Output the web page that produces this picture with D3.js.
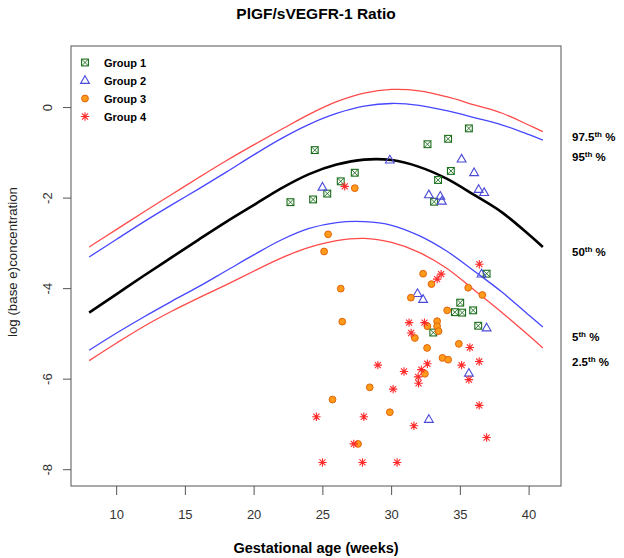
<!DOCTYPE html>
<html><head><meta charset="utf-8">
<script src="https://cdn.jsdelivr.net/npm/d3@7"></script>
<style>body{margin:0;background:#fff}svg{display:block;font-family:"Liberation Sans",Arial,sans-serif}</style>
</head><body><svg id="c" width="624" height="558"></svg>
<script>
// ---- data ----
const gaWeeks = [8,10,12,14,16,18,20,22,24,26,28,30,32,34,36,38,40,41];
const p975 = [-3.08,-2.69,-2.30,-1.92,-1.54,-1.17,-0.82,-0.48,-0.15,0.13,0.32,0.40,0.37,0.24,0.06,-0.12,-0.39,-0.53];
const p95  = [-3.30,-2.91,-2.52,-2.15,-1.79,-1.42,-1.04,-0.68,-0.37,-0.13,0.03,0.09,0.05,-0.07,-0.22,-0.38,-0.60,-0.72];
const p50  = [-4.53,-4.12,-3.71,-3.31,-2.91,-2.52,-2.15,-1.78,-1.47,-1.26,-1.15,-1.16,-1.31,-1.57,-1.93,-2.31,-2.81,-3.08];
const p5   = [-5.36,-4.98,-4.62,-4.28,-3.95,-3.60,-3.25,-2.92,-2.67,-2.54,-2.52,-2.60,-2.83,-3.17,-3.61,-4.07,-4.59,-4.85];
const p25  = [-5.59,-5.20,-4.83,-4.50,-4.20,-3.91,-3.61,-3.32,-3.09,-2.94,-2.89,-2.98,-3.20,-3.55,-4.03,-4.52,-5.04,-5.31];

const g1x = [22.64,24.29,24.41,25.32,26.30,27.32,32.61,34.11,35.62,34.31,33.38,33.09,36.91,34.99,34.60,35.13,35.93,36.30,33.03];
const g1y = [-2.09,-2.03,-0.94,-1.90,-1.63,-1.44,-0.81,-0.69,-0.46,-1.40,-1.60,-2.08,-3.67,-4.31,-4.52,-4.53,-4.48,-4.82,-4.97];

const g2x = [24.97,29.87,35.09,36.00,36.33,36.73,32.71,33.54,33.65,36.54,31.88,32.29,36.91,35.62,32.71];
const g2y = [-1.76,-1.16,-1.14,-1.44,-1.81,-1.88,-1.93,-1.96,-2.07,-3.68,-4.11,-4.24,-4.87,-5.87,-6.89];

const g3x = [27.32,25.38,25.09,26.30,26.41,32.29,32.90,31.40,35.57,36.60,34.04,33.31,33.31,32.60,33.41,31.69,32.58,34.89,33.70,34.11,32.42,28.41,25.70,29.87,27.56];
const g3y = [-1.78,-2.80,-3.18,-4.00,-4.73,-3.67,-3.90,-4.20,-3.98,-4.14,-4.48,-4.72,-4.83,-4.83,-4.94,-5.09,-5.31,-5.22,-5.53,-5.57,-5.88,-6.18,-6.45,-6.73,-7.43];

const g4x = [26.59,36.38,33.60,33.31,31.27,32.39,31.42,35.69,36.37,35.09,32.60,32.16,29.00,30.90,31.93,31.96,30.11,35.62,36.37,36.91,24.53,27.98,31.62,27.25,24.97,27.88,30.40];
const g4y = [-1.74,-3.46,-3.68,-3.79,-4.75,-4.75,-4.98,-5.30,-5.61,-5.69,-5.66,-5.79,-5.69,-5.83,-5.95,-6.09,-6.22,-6.01,-6.58,-7.29,-6.83,-6.83,-7.03,-7.43,-7.84,-7.84,-7.84];

const xTicks = [10,15,20,25,30,35,40];
const yTicks = [0,-2,-4,-6,-8];
const groupNames = ["Group 1","Group 2","Group 3","Group 4"];
const pctLabels = [["97.5","th %"],["95","th %"],["50","th %"],["5","th %"],["2.5","th %"]];
const pctLabelY = [-0.63,-1.09,-3.17,-5.05,-5.61];

// ---- drawing ----
const svg = d3.select("#c");
const x = d3.scaleLinear().domain([6.68,42.32]).range([71,561]);
const y = d3.scaleLinear().domain([-8.36,1.36]).range([486,46]);
const axCol = "#555";

const GREEN="#1c6e1c", BLUE="#4a4ad8", ORF="#ff9a1a", ORS="#e2650c", RED="#ff2a2a";

// curves
const line = d3.line().x(d=>x(d[0])).y(d=>y(d[1])).curve(d3.curveCatmullRom.alpha(0.5));
const curves = [[p975,"#ff4a4a",1.3],[p95,"#4646ff",1.3],[p50,"#000",2.6],[p5,"#4646ff",1.3],[p25,"#ff4a4a",1.3]];
curves.forEach(([vals,col,w])=>{
  svg.append("path").attr("d",line(gaWeeks.map((g,i)=>[g,vals[i]])))
    .attr("fill","none").attr("stroke",col).attr("stroke-width",w);
});

// symbols
function sq(g,cx,cy){const s=3.4;
  g.append("rect").attr("x",cx-s).attr("y",cy-s).attr("width",2*s).attr("height",2*s).attr("fill","none").attr("stroke",GREEN).attr("stroke-width",1.1);
  g.append("path").attr("d",`M${cx-s},${cy-s}L${cx+s},${cy+s}M${cx-s},${cy+s}L${cx+s},${cy-s}`).attr("stroke",GREEN).attr("stroke-width",0.9);
}
function tri(g,cx,cy){const r=4.8;
  g.append("path").attr("d",`M${cx},${cy-r}L${cx+r*0.92},${cy+r*0.6}L${cx-r*0.92},${cy+r*0.6}Z`).attr("fill","none").attr("stroke",BLUE).attr("stroke-width",1.1);
}
function circ(g,cx,cy){
  g.append("circle").attr("cx",cx).attr("cy",cy).attr("r",3.4).attr("fill",ORF).attr("stroke",ORS).attr("stroke-width",1);
}
function ast(g,cx,cy){const r=4.2,d=r*0.72;
  g.append("path").attr("d",`M${cx-r},${cy}L${cx+r},${cy}M${cx},${cy-r}L${cx},${cy+r}M${cx-d},${cy-d}L${cx+d},${cy+d}M${cx-d},${cy+d}L${cx+d},${cy-d}`).attr("stroke",RED).attr("stroke-width",1.1);
}
const pts = svg.append("g");
g1x.forEach((v,i)=>sq(pts,x(v),y(g1y[i])));
g2x.forEach((v,i)=>tri(pts,x(v),y(g2y[i])));
g3x.forEach((v,i)=>circ(pts,x(v),y(g3y[i])));
g4x.forEach((v,i)=>ast(pts,x(v),y(g4y[i])));

// box
svg.append("rect").attr("x",71).attr("y",46).attr("width",490).attr("height",440).attr("fill","none").attr("stroke",axCol).attr("stroke-width",1);

// x axis
const xa = svg.append("g");
xTicks.forEach(t=>{
  xa.append("line").attr("x1",x(t)).attr("x2",x(t)).attr("y1",486).attr("y2",495).attr("stroke",axCol);
  xa.append("text").attr("x",x(t)).attr("y",519).attr("text-anchor","middle").attr("font-size",13).attr("fill","#333").text(t);
});
// y axis
yTicks.forEach(t=>{
  xa.append("line").attr("x1",63).attr("x2",71).attr("y1",y(t)).attr("y2",y(t)).attr("stroke",axCol);
  xa.append("text").attr("transform",`translate(52,${y(t)}) rotate(-90)`).attr("text-anchor","middle").attr("font-size",13).attr("fill","#333").text(String(t));
});

// titles
svg.append("text").attr("x",316).attr("y",19).attr("text-anchor","middle").attr("font-size",15.5).attr("font-weight","bold").text("PlGF/sVEGFR-1 Ratio");
svg.append("text").attr("x",316).attr("y",553).attr("text-anchor","middle").attr("font-size",14.5).attr("font-weight","bold").text("Gestational age (weeks)");
svg.append("text").attr("transform","translate(17,262) rotate(-90)").attr("text-anchor","middle").attr("font-size",13.3).attr("fill","#222").text("log (base e)concentration");

// legend
const legF=[sq,tri,circ,ast];
groupNames.forEach((n,i)=>{
  const ly=62.5+i*18;
  legF[i](svg,85,ly);
  svg.append("text").attr("x",104).attr("y",ly+4).attr("font-size",11).attr("font-weight","bold").text(n);
});

// percentile labels
pctLabels.forEach((p,i)=>{
  const t = svg.append("text").attr("x",572).attr("y",y(pctLabelY[i])+4.5).attr("font-size",11.5).attr("font-weight","bold");
  t.append("tspan").text(p[0]);
  t.append("tspan").attr("font-size",8).attr("dy",-4).text("th");
  t.append("tspan").attr("dy",4).text(" %");
});
</script></body></html>
